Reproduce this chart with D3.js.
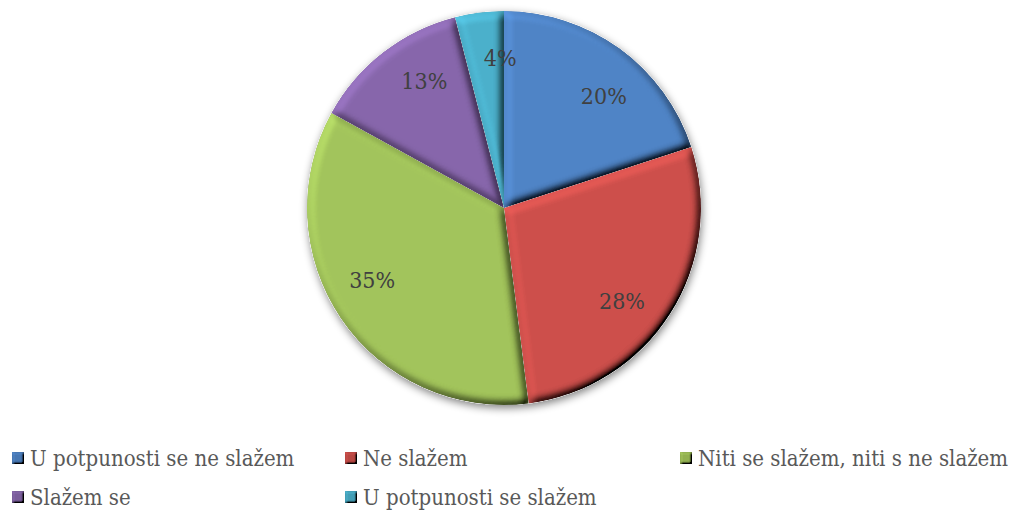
<!DOCTYPE html>
<html>
<head>
<meta charset="utf-8">
<script src="https://cdn.jsdelivr.net/npm/d3@7"></script>
<style>
  html, body { margin: 0; padding: 0; background: #fff; }
  svg { display: block; }
</style>
</head>
<body>
<svg width="1013" height="516"></svg>
<script>
// data
// ----------------------------------
var categories = [
  'U potpunosti se ne slažem',
  'Ne slažem',
  'Niti se slažem, niti s ne slažem',
  'Slažem se',
  'U potpunosti se slažem'
];
var shares = [20, 28, 35, 13, 4];
var sliceColors = ['#4f84c6', '#cd4f4b', '#a2c45b', '#8766ab', '#4bb0cb'];

// 0. setup
// ----------------------------------
var cx = 504, cy = 208, R = 197;
var serif = "'DejaVu Serif Condensed', 'DejaVu Serif', serif";
var svg = d3.select('svg');
var defs = svg.append('defs');

// soft bevel, one per slice (light from the top left)
function addBevel(id, blur, scale) {
  var f = defs.append('filter').attr('id', id)
      .attr('x', '-10%').attr('y', '-10%').attr('width', '120%').attr('height', '120%');
  f.append('feGaussianBlur').attr('in', 'SourceAlpha').attr('stdDeviation', blur).attr('result', 'blur');
  f.append('feDiffuseLighting').attr('in', 'blur').attr('surfaceScale', scale)
      .attr('diffuseConstant', 1).attr('lighting-color', '#fff').attr('result', 'light')
    .append('feDistantLight').attr('azimuth', 225).attr('elevation', 50);
  f.append('feComposite').attr('in', 'SourceGraphic').attr('in2', 'light')
      .attr('operator', 'arithmetic').attr('k1', 1 / Math.sin(50 * Math.PI / 180))
      .attr('k2', 0).attr('k3', 0).attr('k4', 0).attr('result', 'lit');
  f.append('feComposite').attr('in', 'lit').attr('in2', 'SourceAlpha').attr('operator', 'in');
}
addBevel('bevel', 4, 7);
addBevel('bevel-small', 1.2, 3);

var shadow = defs.append('filter').attr('id', 'shadow')
    .attr('x', '-10%').attr('y', '-10%').attr('width', '120%').attr('height', '120%');
shadow.append('feGaussianBlur').attr('in', 'SourceAlpha').attr('stdDeviation', 4).attr('result', 'b');
shadow.append('feOffset').attr('in', 'b').attr('dx', 1).attr('dy', 3).attr('result', 'o');
shadow.append('feComponentTransfer').attr('in', 'o').attr('result', 's')
  .append('feFuncA').attr('type', 'linear').attr('slope', 0.5);
var merge = shadow.append('feMerge');
merge.append('feMergeNode').attr('in', 's');
merge.append('feMergeNode').attr('in', 'SourceGraphic');

// 1. pie
// ----------------------------------
var pie = d3.pie().sort(null).value(function(d) { return d; });
var arcs = pie(shares);
var arc = d3.arc().innerRadius(0).outerRadius(R);

var pieGroup = svg.append('g')
    .attr('transform', 'translate(' + cx + ',' + cy + ')');

// shadow under the whole pie
pieGroup.append('circle')
    .attr('r', R)
    .style('fill', '#fff')
    .attr('filter', 'url(#shadow)');

pieGroup.selectAll('path.slice')
    .data(arcs)
  .enter().append('path')
    .classed('slice', true)
    .attr('d', arc)
    .style('fill', function(d, i) { return sliceColors[i]; })
    .attr('filter', 'url(#bevel)');

// labels sit a little clockwise of the mid angle, like the original
var labelR = 150;
pieGroup.selectAll('text.pct')
    .data(arcs)
  .enter().append('text')
    .classed('pct', true)
    .attr('x', function(d) { return labelR * Math.sin((d.startAngle + d.endAngle) / 2 + 0.1); })
    .attr('y', function(d) { return -labelR * Math.cos((d.startAngle + d.endAngle) / 2 + 0.1); })
    .attr('dy', '0.35em')
    .attr('text-anchor', 'middle')
    .style('font-family', serif)
    .style('font-stretch', 'condensed')
    .style('font-size', '23px')
    .style('fill', '#404040')
    .text(function(d) { return d.data + '%'; });

// 2. legend
// ----------------------------------
var colX = [12, 345, 680];
var rowY = [458, 497];
var legend = svg.append('g').classed('legend', true);
var items = legend.selectAll('g.item')
    .data(categories)
  .enter().append('g')
    .classed('item', true)
    .attr('transform', function(d, i) {
      return 'translate(' + colX[i % 3] + ',' + rowY[Math.floor(i / 3)] + ')';
    });

items.append('rect')
    .attr('x', 0).attr('y', -6)
    .attr('width', 12).attr('height', 12)
    .style('fill', function(d, i) { return d3.color(sliceColors[i]).darker(0.3); })
    .attr('filter', 'url(#bevel-small)');

items.append('text')
    .attr('x', 18)
    .attr('dy', '0.35em')
    .style('font-family', serif)
    .style('font-stretch', 'condensed')
    .style('font-size', '22px')
    .style('fill', '#595959')
    .text(function(d) { return d; });
</script>
</body>
</html>
